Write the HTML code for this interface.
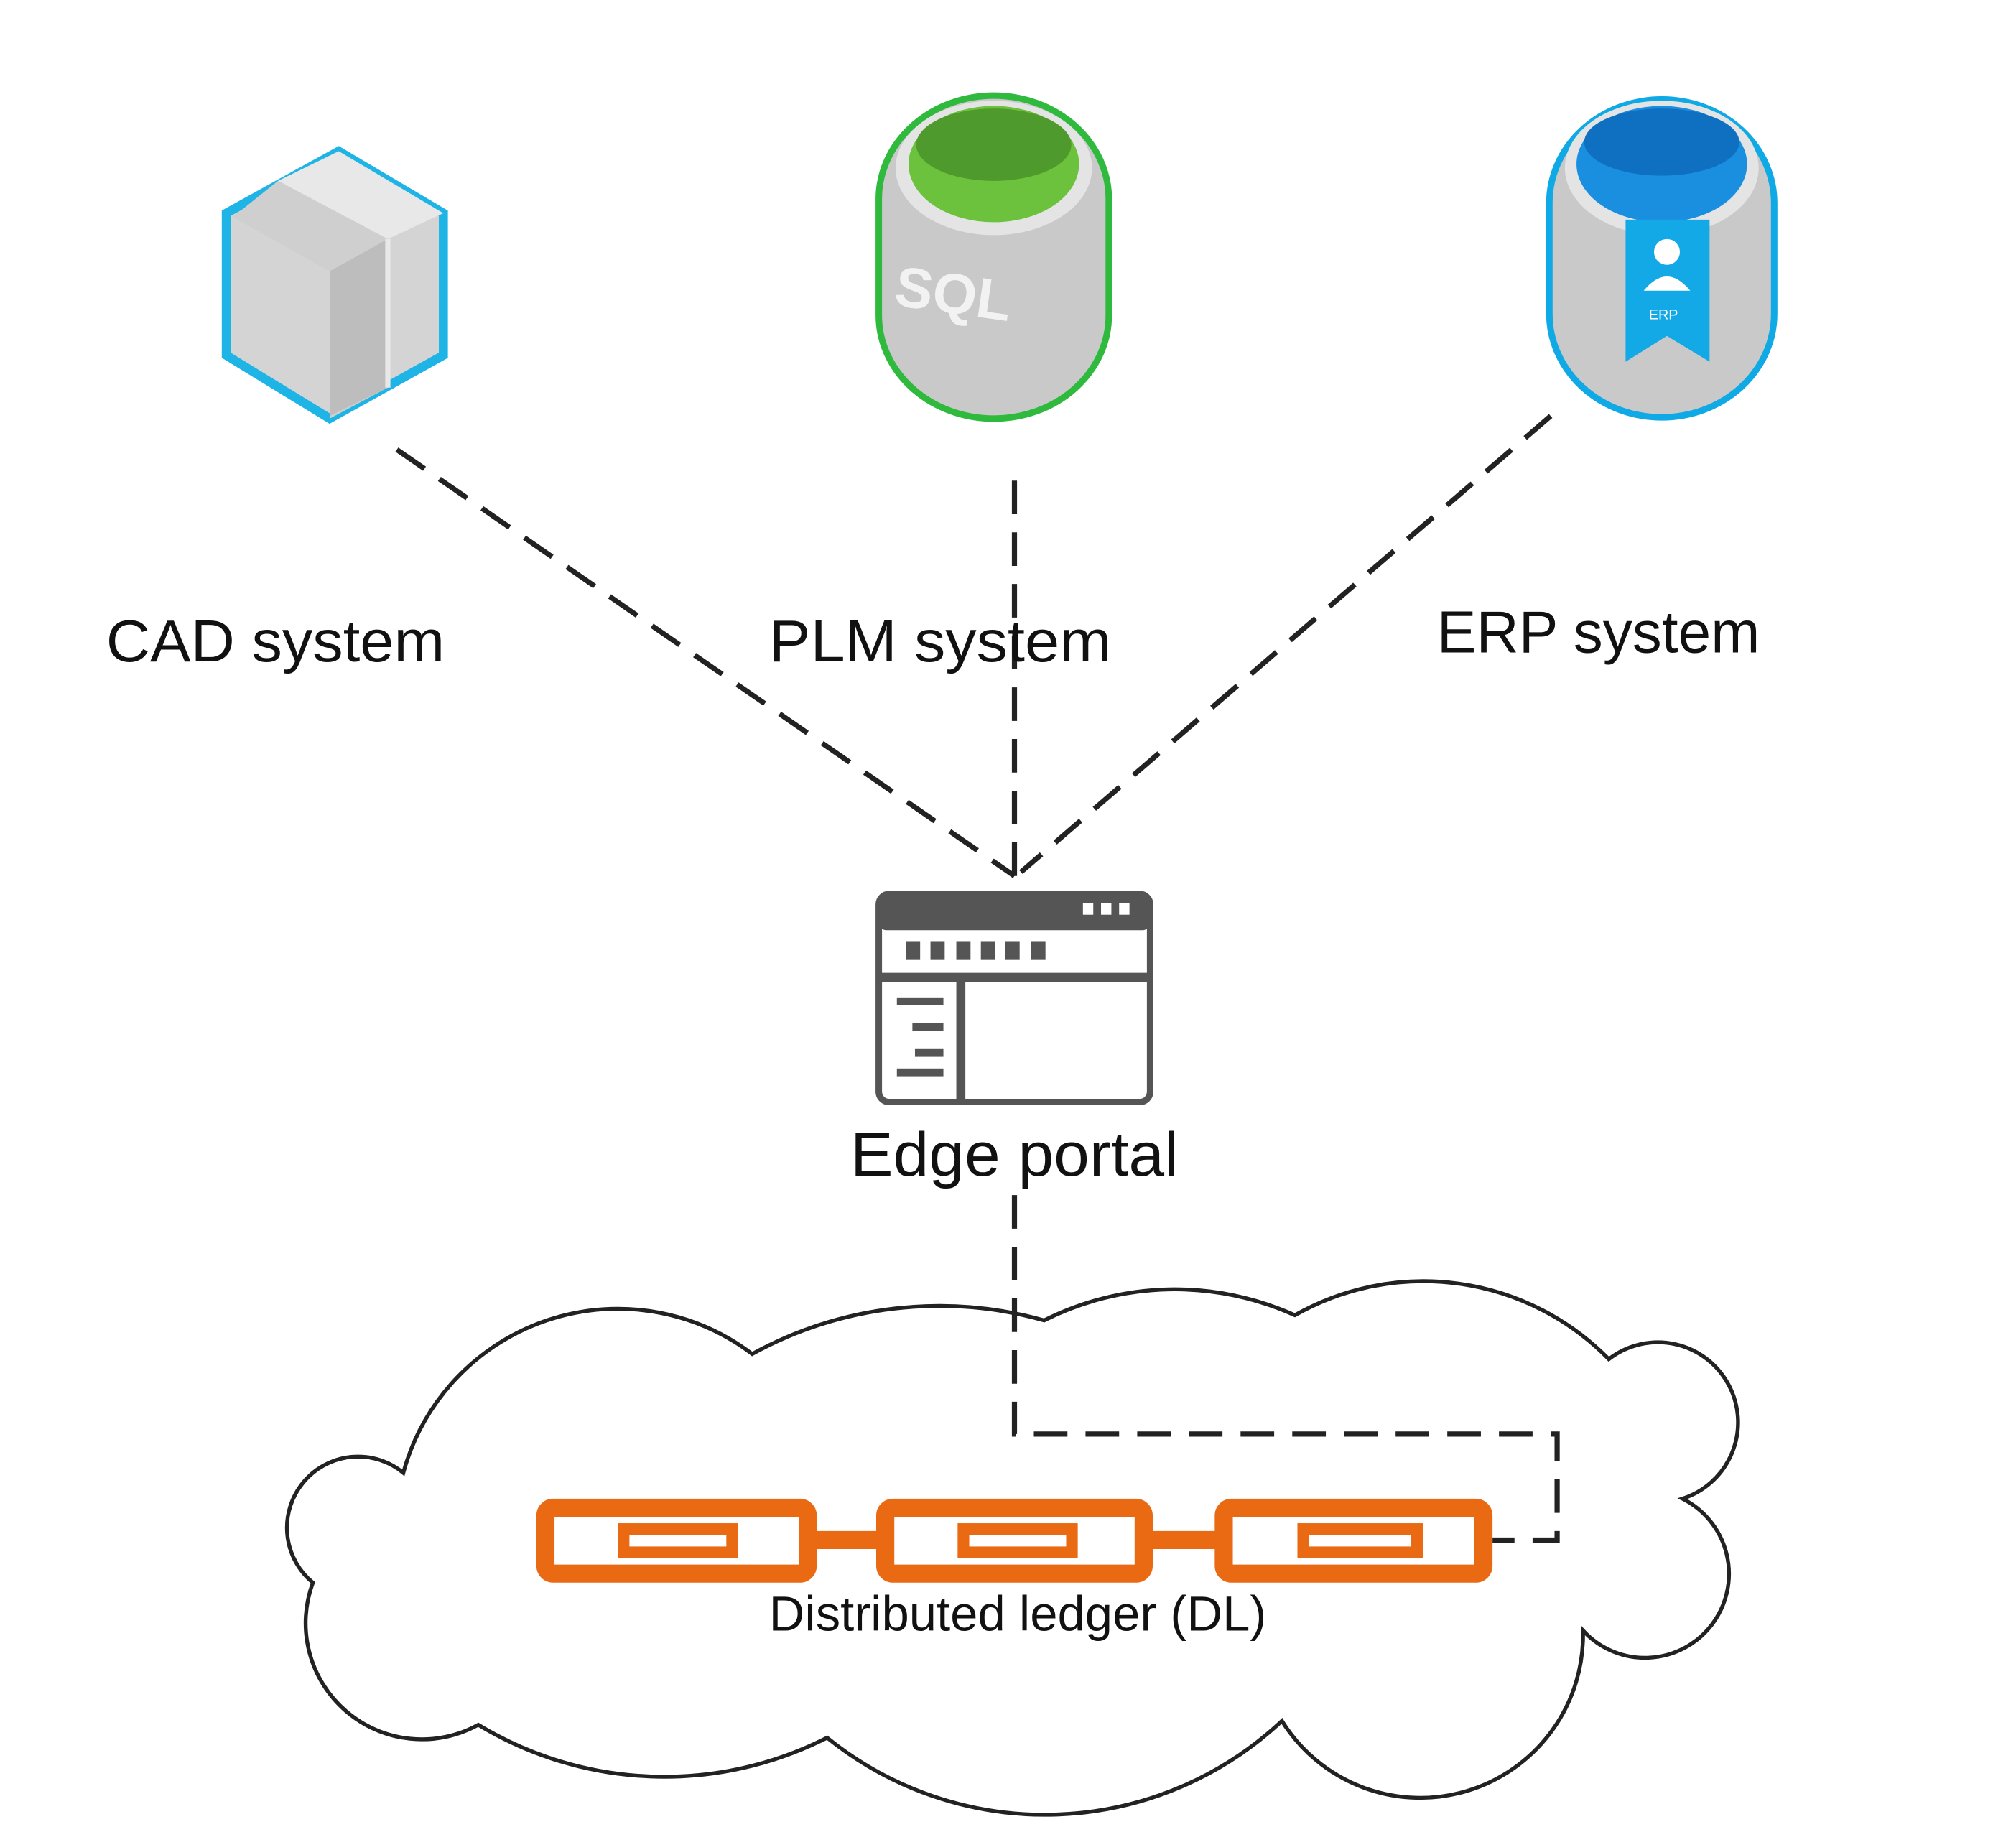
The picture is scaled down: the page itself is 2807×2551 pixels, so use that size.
<!DOCTYPE html>
<html><head><meta charset="utf-8"><style>
html,body{margin:0;padding:0;background:#fff;}
svg{display:block;}
text{font-family:"Liberation Sans",sans-serif;fill:#111;}
</style></head><body>
<svg width="2807" height="2551" viewBox="0 0 1560 1418" xmlns="http://www.w3.org/2000/svg">
<rect width="1560" height="1418" fill="#fff"/>
<!-- cloud -->
<path d="M312,1140 A172 172 0 0 1 582,1048 A301 301 0 0 1 808,1022 A225 225 0 0 1 1002,1018 A201 201 0 0 1 1245,1052 A62 62 0 1 1 1302,1160 A65 65 0 1 1 1225,1262 A126 126 0 0 1 992,1332 A268 268 0 0 1 640,1345 A278 278 0 0 1 370,1335 A90 90 0 0 1 242,1225 A55 55 0 1 1 312,1140 Z" fill="#fff" stroke="#222" stroke-width="3"/>
<!-- dashed connectors -->
<g stroke="#222" stroke-width="4" stroke-dasharray="26,14" fill="none">
<line x1="307" y1="348" x2="785" y2="678"/>
<line x1="785" y1="372" x2="785" y2="678"/>
<line x1="1200" y1="322" x2="790" y2="675"/>
<polyline points="785,925 785,1110 1205,1110 1205,1192 1155,1192"/>
</g>
<!-- CAD hex -->
<polygon points="262,117 343,165 343,275 255,324 175,275 175,165" fill="#d4d4d4" stroke="#1fb4e6" stroke-width="7"/>
<polygon points="262,117 343,165 300,185 215,140" fill="#e8e8e8"/>
<polygon points="215,140 300,185 300,300 255,324 255,210 180,168" fill="#cfcfcf"/>
<polygon points="255,210 300,185 300,300 255,322" fill="#bdbdbd"/>
<line x1="300" y1="185" x2="300" y2="300" stroke="#e8e8e8" stroke-width="4"/>
<!-- PLM cylinder -->
<rect x="680" y="74" width="178" height="250" rx="89" ry="80" fill="#c9c9c9" stroke="#2fba3e" stroke-width="5"/>
<ellipse cx="769" cy="130" rx="76" ry="52" fill="#e4e4e4"/>
<ellipse cx="769" cy="127" rx="66" ry="45" fill="#6cc23d"/>
<ellipse cx="769" cy="112" rx="60" ry="28" fill="#4f9a2c"/>
<text x="692" y="240" font-size="44" style="fill:#f2f2f2" font-weight="bold" transform="rotate(8 720 230)">SQL</text>
<!-- ERP cylinder -->
<rect x="1199" y="77" width="174" height="246" rx="87" ry="80" fill="#c9c9c9" stroke="#0fa9e6" stroke-width="5"/>
<ellipse cx="1286" cy="130" rx="75" ry="52" fill="#e4e4e4"/>
<ellipse cx="1286" cy="127" rx="66" ry="45" fill="#1a8fe0"/>
<ellipse cx="1286" cy="110" rx="60" ry="26" fill="#0f6fc0"/>
<polygon points="1258,170 1323,170 1323,280 1290,260 1258,280" fill="#13a9e6"/>
<circle cx="1290" cy="195" r="10" fill="#fff"/>
<path d="M1272,225 q18,-22 36,0 z" fill="#fff"/>
<text x="1276" y="247" font-size="11" style="fill:#fff">ERP</text>
<!-- labels -->
<text x="82" y="512" font-size="46" textLength="262" lengthAdjust="spacingAndGlyphs">CAD system</text>
<text x="595" y="512" font-size="46" textLength="265" lengthAdjust="spacingAndGlyphs">PLM system</text>
<text x="1112" y="505" font-size="46" textLength="250" lengthAdjust="spacingAndGlyphs">ERP system</text>
<!-- Edge portal icon -->
<rect x="680" y="692" width="210" height="161" rx="8" fill="#fff" stroke="#555" stroke-width="5"/>
<rect x="680" y="692" width="210" height="28" rx="6" fill="#555"/>
<g fill="#fff"><rect x="838" y="699" width="8" height="9"/><rect x="852" y="699" width="8" height="9"/><rect x="866" y="699" width="8" height="9"/></g>
<g fill="#555"><rect x="701" y="729" width="11" height="14"/><rect x="720" y="729" width="11" height="14"/><rect x="740" y="729" width="11" height="14"/><rect x="759" y="729" width="11" height="14"/><rect x="778" y="729" width="11" height="14"/><rect x="798" y="729" width="11" height="14"/></g>
<rect x="680" y="753" width="210" height="7" fill="#555"/>
<rect x="740" y="757" width="7" height="96" fill="#555"/>
<g fill="#555"><rect x="694" y="772" width="36" height="6"/><rect x="706" y="792" width="24" height="6"/><rect x="708" y="812" width="22" height="6"/><rect x="694" y="827" width="36" height="6"/></g>
<text x="658" y="910" font-size="48" textLength="254" lengthAdjust="spacingAndGlyphs">Edge portal</text>
<!-- chain -->
<g fill="none" stroke="#ea6a14" stroke-width="14">
<rect x="422" y="1167" width="203" height="51" rx="6"/>
<rect x="685" y="1167" width="200" height="51" rx="6"/>
<rect x="947" y="1167" width="201" height="51" rx="6"/>
<line x1="625" y1="1192" x2="685" y2="1192"/>
<line x1="885" y1="1192" x2="947" y2="1192"/>
</g>
<g fill="none" stroke="#ea6a14" stroke-width="9">
<rect x="482.5" y="1183.5" width="84" height="18"/>
<rect x="745.5" y="1183.5" width="84" height="18"/>
<rect x="1008.5" y="1183.5" width="88" height="18"/>
</g>
<text x="595" y="1262" font-size="38" textLength="385" lengthAdjust="spacingAndGlyphs">Distributed ledger (DL)</text>
</svg>
</body></html>
